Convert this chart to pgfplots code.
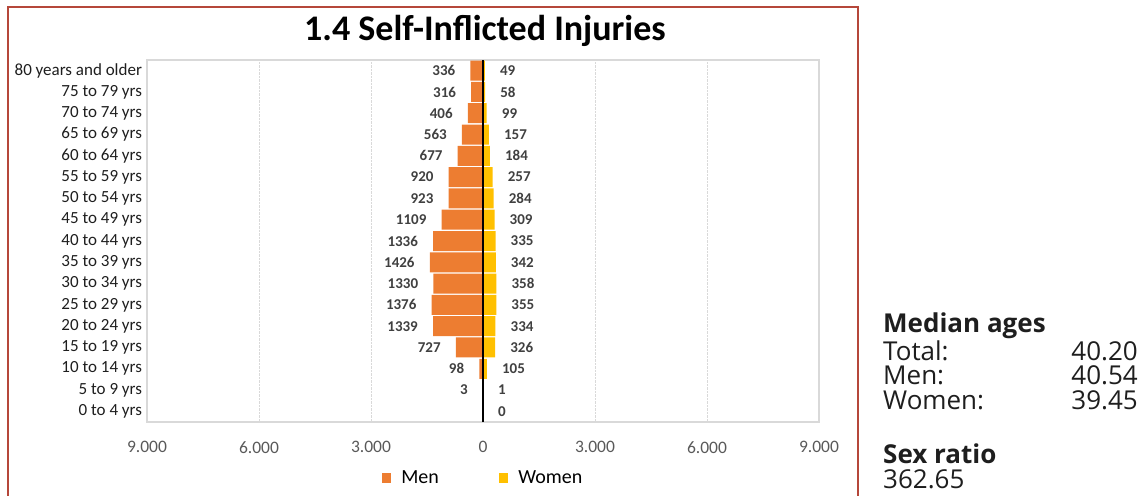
\documentclass[border=0pt]{standalone}
\usepackage{pgfplots}
\pgfplotsset{compat=1.18}
\usepackage{fontspec}
\setmainfont{Carlito}
\newfontfamily\osans{Open Sans}
\definecolor{menc}{HTML}{ED7D31}
\definecolor{womc}{HTML}{FFC000}
\definecolor{framec}{HTML}{B5473A}
\definecolor{gridc}{HTML}{D9D9D9}
\definecolor{tickc}{HTML}{595959}
\definecolor{labc}{HTML}{404040}
\definecolor{txtc}{HTML}{1E1E1E}
\begin{document}
\begin{tikzpicture}
\useasboundingbox (0,0) rectangle (1145pt,-495pt);
\draw[framec, line width=2.5pt] (8pt,-497pt) -- (8pt,-7pt) -- (858pt,-7pt) -- (858pt,-497pt);
\node[font=\fontsize{36}{42}\selectfont\bfseries, anchor=base, inner sep=0pt] at (485pt,-41pt) {1.4 Self-Inflicted Injuries};
\begin{axis}[
  at={(147pt,-422pt)}, anchor=south west,
  scale only axis, width=672pt, height=362pt,
  xbar, bar width=20pt,
  xmin=-9000, xmax=9000, ymin=-0.5, ymax=16.5,
  xtick={-9000,-6000,-3000,0,3000,6000,9000},
  xticklabels={9.000,6.000,3.000,0,3.000,6.000,9.000},
  ytick={0,...,16},
  yticklabels={0 to 4 yrs,5 to 9 yrs,10 to 14 yrs,15 to 19 yrs,20 to 24 yrs,25 to 29 yrs,30 to 34 yrs,35 to 39 yrs,40 to 44 yrs,45 to 49 yrs,50 to 54 yrs,55 to 59 yrs,60 to 64 yrs,65 to 69 yrs,70 to 74 yrs,75 to 79 yrs,80 years and older},
  major tick length=0pt,
  xmajorgrids, grid style={gridc, densely dotted, line width=1pt},
  axis line style={gridc, line width=1.5pt},
  xticklabel style={font=\fontsize{17.5}{20}\selectfont, text=tickc, yshift=-16pt},
  yticklabel style={font=\fontsize{17}{19}\selectfont, text=txtc, xshift=-1.5pt},
  point meta=explicit symbolic,
  nodes near coords,
  nodes near coords style={font=\fontsize{15}{18}\selectfont\bfseries, text=labc, inner sep=0pt},
  legend style={at={(0.5,-0.155)}, anchor=center, draw=none, fill=none,
    legend columns=2, font=\fontsize{20}{24}\selectfont,
    /tikz/every odd column/.append style={column sep=8pt},
    /tikz/every even column/.append style={column sep=58pt}},
  legend image code/.code={\fill[#1] (0pt,-4.5pt) rectangle (9.5pt,5pt);},
]
\addplot[fill=menc, draw=none, bar shift=0pt, nodes near coords style={anchor=east, xshift=-15pt}] coordinates {
 (-336,16) [336] (-316,15) [316] (-406,14) [406] (-563,13) [563] (-677,12) [677]
 (-920,11) [920] (-923,10) [923] (-1109,9) [1109] (-1336,8) [1336] (-1426,7) [1426]
 (-1330,6) [1330] (-1376,5) [1376] (-1339,4) [1339] (-727,3) [727] (-98,2) [98] (-3,1) [3]
};
\addlegendentry{Men}
\addplot[fill=womc, draw=none, bar shift=0pt, nodes near coords style={anchor=west, xshift=15pt}] coordinates {
 (49,16) [49] (58,15) [58] (99,14) [99] (157,13) [157] (184,12) [184]
 (257,11) [257] (284,10) [284] (309,9) [309] (335,8) [335] (342,7) [342]
 (358,6) [358] (355,5) [355] (334,4) [334] (326,3) [326] (105,2) [105] (1,1) [1] (0,0) [0]
};
\addlegendentry{Women}
\draw[black, line width=1.6pt] (axis cs:0,-0.5) -- (axis cs:0,16.5);
\end{axis}
\begin{scope}[every node/.style={inner sep=0pt, text=txtc}]
\node[anchor=base west, font=\osans\bfseries\fontsize{26}{30}\selectfont] at (883pt,-332pt) {Median ages};
\node[anchor=base west, font=\osans\fontsize{26}{30}\selectfont] at (883pt,-360pt) {Total:};
\node[anchor=base west, font=\osans\fontsize{26}{30}\selectfont] at (883pt,-384.5pt) {Men:};
\node[anchor=base west, font=\osans\fontsize{26}{30}\selectfont] at (883pt,-409pt) {Women:};
\node[anchor=base east, font=\osans\fontsize{26}{30}\selectfont] at (1138pt,-360pt) {40.20};
\node[anchor=base east, font=\osans\fontsize{26}{30}\selectfont] at (1138pt,-384.5pt) {40.54};
\node[anchor=base east, font=\osans\fontsize{26}{30}\selectfont] at (1138pt,-409pt) {39.45};
\node[anchor=base west, font=\osans\bfseries\fontsize{26}{30}\selectfont] at (883pt,-463pt) {Sex ratio};
\node[anchor=base west, font=\osans\fontsize{26}{30}\selectfont] at (883pt,-488pt) {362.65};
\end{scope}
\end{tikzpicture}
\end{document}
